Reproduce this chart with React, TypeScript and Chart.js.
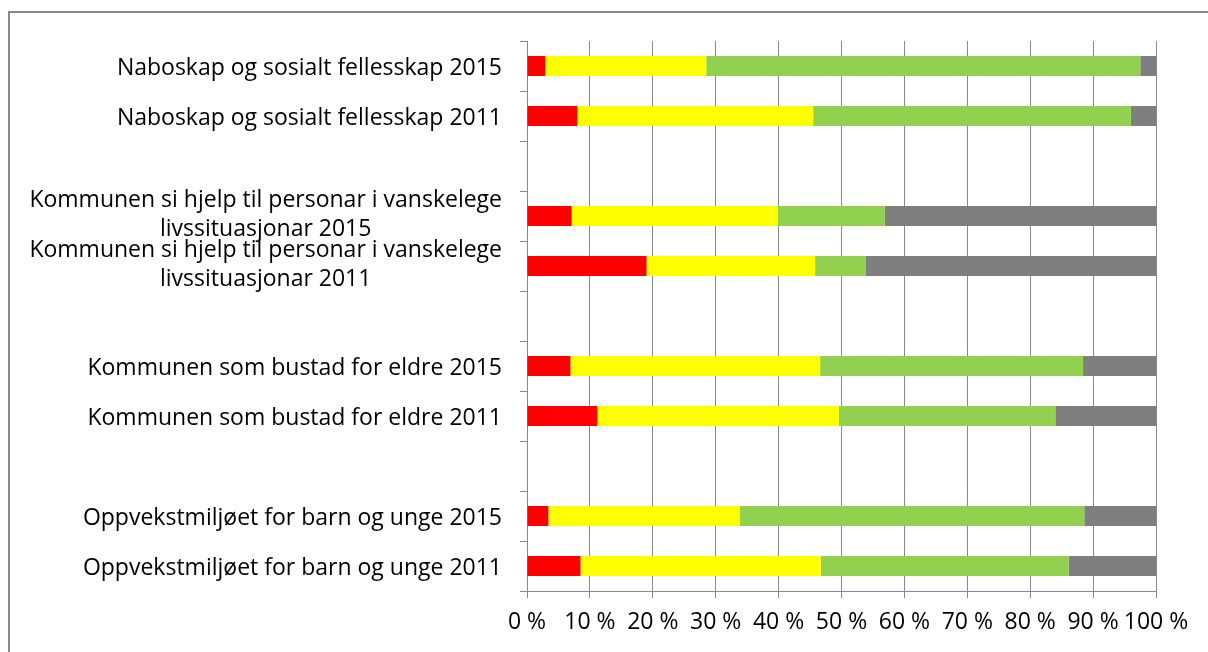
import React, { useEffect, useRef } from "react";
import { Chart, registerables } from "chart.js";

Chart.register(...registerables);

// ---- data (percent of respondents) ----
const categories: (string | string[])[] = [
  "Naboskap og sosialt fellesskap 2015",
  "Naboskap og sosialt fellesskap 2011",
  "",
  ["Kommunen si hjelp til personar i vanskelege", "livssituasjonar 2015"],
  ["Kommunen si hjelp til personar i vanskelege", "livssituasjonar 2011"],
  "",
  "Kommunen som bustad for eldre 2015",
  "Kommunen som bustad for eldre 2011",
  "",
  "Oppvekstmiljøet for barn og unge 2015",
  "Oppvekstmiljøet for barn og unge 2011",
];

const redValues = [2.9, 8.0, null, 7.1, 19.0, null, 6.9, 11.2, null, 3.4, 8.5];
const yellowValues = [25.6, 37.5, null, 32.8, 26.8, null, 39.7, 38.4, null, 30.4, 38.2];
const greenValues = [69.0, 50.5, null, 17.0, 8.0, null, 41.8, 34.4, null, 54.8, 39.4];
const grayValues = [2.5, 4.0, null, 43.1, 46.2, null, 11.6, 16.0, null, 11.4, 13.9];

const seriesNames = ["Dårleg", "Middels", "Godt", "Veit ikkje"];
const xTicks = [0, 10, 20, 30, 40, 50, 60, 70, 80, 90, 100];

const FONT = '"Open Sans"';
const FONT_SIZE = 23;
const AXIS_COLOR = "#898989";
const Y_TICK_LEN = 7;
const Y_LABEL_GAP = 18;

const yLabelPlugin = {
  id: "yLabels",
  afterDraw(chart: any) {
    const ys = chart.scales.y;
    const ctx = chart.ctx as CanvasRenderingContext2D;
    ctx.save();
    ctx.font = `${FONT_SIZE}px ${FONT}`;
    ctx.fillStyle = "#000000";
    ctx.textBaseline = "alphabetic";
    const xr = ys.right - Y_TICK_LEN - Y_LABEL_GAP;
    categories.forEach((lab, i) => {
      const lines = Array.isArray(lab) ? lab : [lab];
      const yc = ys.getPixelForValue(i);
      if (lines.length === 1) {
        if (!lines[0]) return;
        ctx.textAlign = "right";
        ctx.fillText(lines[0], xr, yc + 9);
      } else {
        const w = Math.max(...lines.map((l) => ctx.measureText(l).width));
        const cx = xr - w / 2;
        ctx.textAlign = "center";
        lines.forEach((l, k) => ctx.fillText(l, cx, yc - 9.5 + k * 29.5));
      }
    });
    ctx.restore();
  },
};

export default function App() {
  const canvasRef = useRef<HTMLCanvasElement | null>(null);

  useEffect(() => {
    document.body.style.margin = "0";
    const canvas = canvasRef.current;
    if (!canvas) return;
    const chart = new Chart(canvas, {
      type: "bar",
      data: {
        labels: categories as any,
        datasets: [
          { label: seriesNames[0], data: redValues as any, backgroundColor: "#FF0000" },
          { label: seriesNames[1], data: yellowValues as any, backgroundColor: "#FFFF00" },
          { label: seriesNames[2], data: greenValues as any, backgroundColor: "#92D050" },
          { label: seriesNames[3], data: grayValues as any, backgroundColor: "#7F7F7F" },
        ],
      },
      options: {
        indexAxis: "y",
        responsive: false,
        animation: false,
        devicePixelRatio: 1,
        layout: { padding: { top: 41, right: 52, bottom: 0, left: 0 } },
        datasets: {
          bar: { categoryPercentage: 0.4, barPercentage: 1, borderWidth: 0 },
        },
        plugins: {
          legend: { display: false },
          tooltip: { enabled: false },
          title: { display: false },
        },
        scales: {
          x: {
            stacked: true,
            min: 0,
            max: 100,
            afterBuildTicks: (scale: any) => {
              scale.ticks = xTicks.map((v) => ({ value: v }));
            },
            afterFit: (scale: any) => {
              scale.height = 61;
            },
            grid: {
              color: AXIS_COLOR,
              lineWidth: 1,
              drawTicks: true,
              tickLength: 7,
              tickColor: AXIS_COLOR,
            },
            border: { display: true, color: AXIS_COLOR, width: 1 },
            ticks: {
              padding: 11,
              color: "#000000",
              maxRotation: 0,
              autoSkip: false,
              font: { family: FONT, size: FONT_SIZE },
              callback: (v: any) => `${v} %`,
            },
          },
          y: {
            stacked: true,
            afterFit: (scale: any) => {
              scale.width = 527;
            },
            grid: {
              display: true,
              offset: true,
              drawOnChartArea: false,
              drawTicks: true,
              tickLength: Y_TICK_LEN,
              color: AXIS_COLOR,
              tickColor: AXIS_COLOR,
            },
            border: { display: true, color: AXIS_COLOR, width: 1 },
            ticks: { display: false },
          },
        },
      },
      plugins: [yLabelPlugin],
    });
    const fontsReady = (document as any).fonts?.ready;
    if (fontsReady) fontsReady.then(() => chart.update());
    return () => chart.destroy();
  }, []);

  return (
    <div
      style={{
        position: "fixed",
        left: 0,
        top: 0,
        width: 1208,
        height: 652,
        overflow: "hidden",
        background: "#ffffff",
      }}
    >
      <div
        style={{
          position: "absolute",
          left: 8,
          top: 11,
          width: 1400,
          height: 900,
          border: `2px solid ${AXIS_COLOR}`,
          boxSizing: "border-box",
        }}
      />
      <canvas
        ref={canvasRef}
        width={1208}
        height={652}
        style={{ position: "absolute", left: 0, top: 0, width: 1208, height: 652 }}
      />
    </div>
  );
}
